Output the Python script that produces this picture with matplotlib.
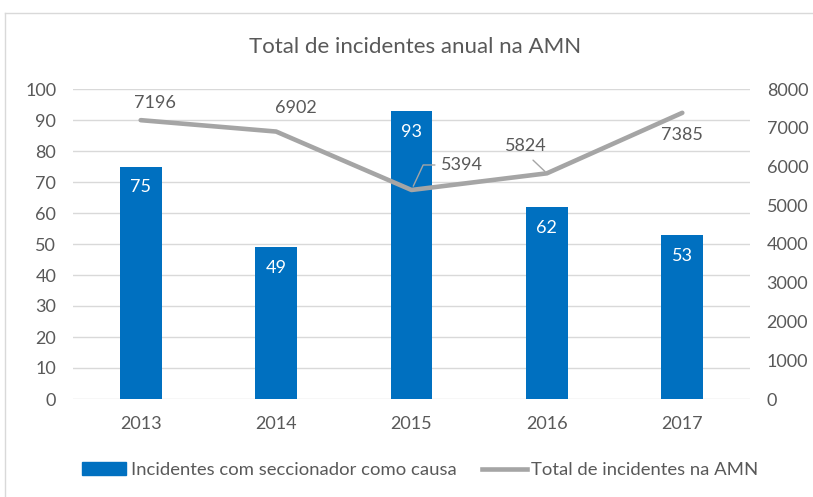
import matplotlib
matplotlib.use("Agg")
import matplotlib.pyplot as plt
from matplotlib.lines import Line2D
from matplotlib.patches import Patch

years = ["2013", "2014", "2015", "2016", "2017"]
incidentes_seccionador = [75, 49, 93, 62, 53]
total_incidentes = [7196, 6902, 5394, 5824, 7385]
left_ticks = list(range(0, 101, 10))
right_ticks = list(range(0, 8001, 1000))

TXT = "#595959"
GRID = "#D9D9D9"
BLUE = "#0070C0"
GRAY = "#A5A5A5"
plt.rcParams['font.family'] = ['Lato', 'DejaVu Sans']

fig = plt.figure(figsize=(8.13, 4.97), dpi=100)
ax = fig.add_axes([73/813, 1-399/497, (750-73)/813, (399-89)/497])
ax2 = ax.twinx()

x = list(range(len(years)))
ax.bar(x, incidentes_seccionador, width=0.31, color=BLUE, zorder=2)
ax.set_ylim(0, 100)
ax.set_yticks(left_ticks)
ax.set_xlim(-0.5, len(years)-0.5)
ax.set_xticks(x)
ax.set_xticklabels(years)
ax.grid(axis='y', color=GRID, lw=1, zorder=0)
ax.set_axisbelow(True)
for s in ax.spines.values():
    s.set_visible(False)
for s in ax2.spines.values():
    s.set_visible(False)
ax.tick_params(axis='both', length=0, labelsize=13, colors=TXT)
ax.tick_params(axis='y', pad=12)
ax.tick_params(axis='x', pad=12)

for xi, v in zip(x, incidentes_seccionador):
    ax.annotate(str(v), (xi, v), xytext=(0, -15), textcoords='offset points',
                ha='center', va='center', color='white', fontsize=13)

ax2.plot(x, total_incidentes, color=GRAY, lw=3.3, zorder=3, solid_capstyle='round')
ax2.set_ylim(0, 8000)
ax2.set_yticks(right_ticks)
ax2.tick_params(axis='y', length=0, labelsize=13, colors=TXT, pad=12)

# label offsets in points (dx, dy), positive dy = up
offs = [(10, 12), (14, 17), (36, 18), (-15, 20), (0, -16)]
for i, (xi, v) in enumerate(zip(x, total_incidentes)):
    dx, dy = offs[i]
    kw = {}
    if i == 2:
        kw['arrowprops'] = dict(arrowstyle='-', color=GRAY, lw=1,
                                connectionstyle='angle,angleA=0,angleB=65,rad=0',
                                relpos=(0, 0.5), shrinkA=2, shrinkB=3)
    if i == 3:
        kw['arrowprops'] = dict(arrowstyle='-', color=GRAY, lw=1,
                                relpos=(0.5, 0), shrinkA=4, shrinkB=2)
    ax2.annotate(str(v), (xi, v), xytext=(dx, dy), textcoords='offset points',
                 ha='center', va='center', color=TXT, fontsize=13, **kw)

fig.text(415/813, 1-47/497, "Total de incidentes anual na AMN", ha='center', va='center',
         fontsize=16, color=TXT)

handles = [Patch(color=BLUE), Line2D([0], [0], color=GRAY, lw=3.3)]
fig.legend(handles, ["Incidentes com seccionador como causa", "Total de incidentes na AMN"],
           loc='center', bbox_to_anchor=(420/813, 1-470/497), ncol=2, frameon=False,
           fontsize=13.3, labelcolor=TXT, handlelength=2.4, handletextpad=0.25,
           columnspacing=1.4)

fig.add_artist(Line2D([5/813, 5/813], [0, 1-13/497], transform=fig.transFigure, color=GRID, lw=1))
fig.add_artist(Line2D([5/813, 1], [1-13/497, 1-13/497], transform=fig.transFigure, color=GRID, lw=1))

fig.savefig("out.png", dpi=100)
